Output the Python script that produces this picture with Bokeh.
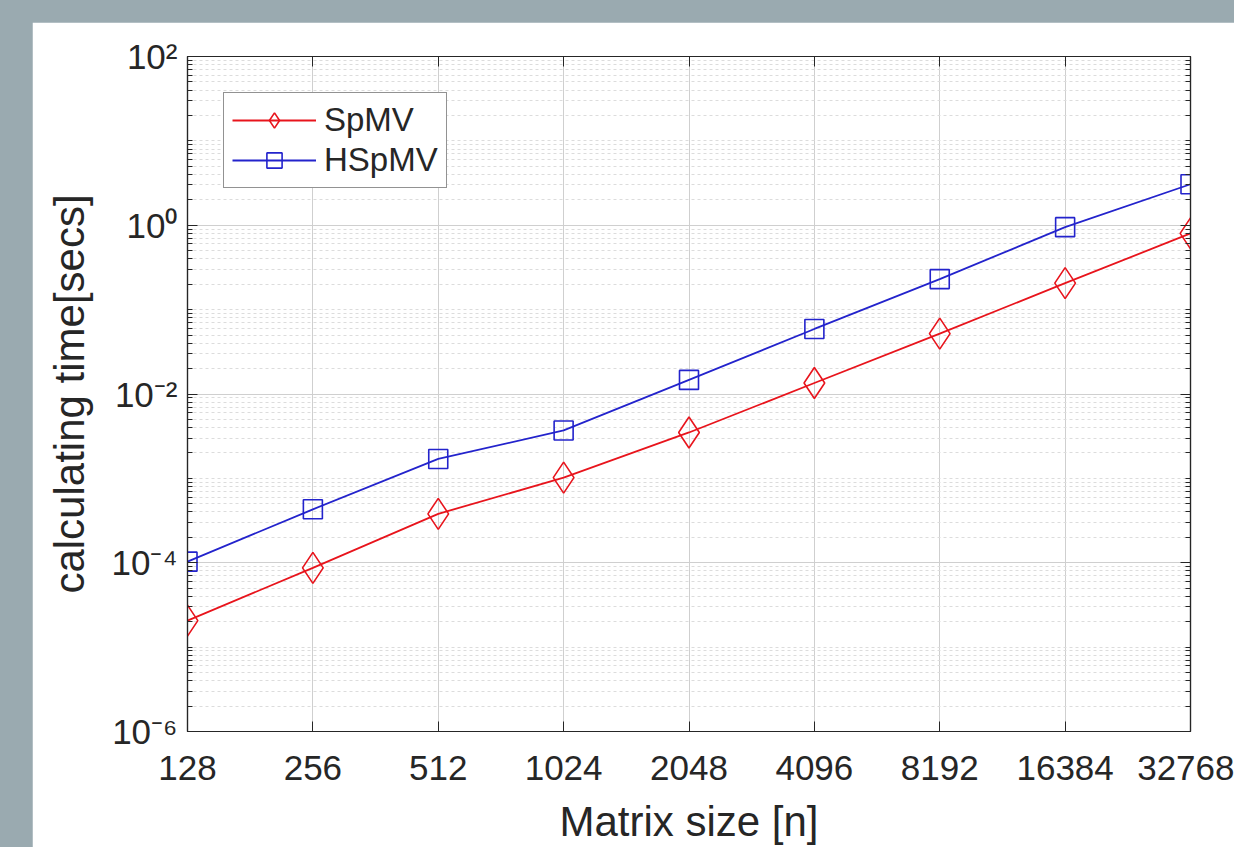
from bokeh.plotting import figure
from bokeh.models import (Range1d, FixedTicker, CustomJSTickFormatter, LogAxis, Spacer)
from bokeh.layouts import column, row
from bokeh.embed import file_html
from bokeh.resources import INLINE

# ---- data ----
matrix_sizes = [128, 256, 512, 1024, 2048, 4096, 8192, 16384, 32768]
spmv_time = [2.06e-5, 8.7e-5, 3.8e-4, 1.02e-3, 3.5e-3, 1.35e-2, 5.2e-2, 0.206, 0.80]
hspmv_time = [1.03e-4, 4.3e-4, 1.7e-3, 3.7e-3, 1.47e-2, 5.9e-2, 0.23, 0.95, 3.06]
y_major_ticks = [1e-6, 1e-4, 1e-2, 1e0, 1e2]
series_names = ["SpMV", "HSpMV"]

# ---- style ----
GRAY_BG = "#9AAAB0"
AX = "#262626"
RED = "#E8141C"
BLUE = "#2323CC"
FONT = "Liberation Sans"

y_minor_ticks = [m * 10.0 ** k for k in range(-6, 2) for m in range(1, 10)
                 if not (m == 1 and k % 2 == 0)]

p = figure(width=1202, height=825,
           x_axis_type="log", y_axis_type="log",
           x_range=Range1d(128, 32768), y_range=Range1d(1e-6, 1e2),
           output_backend="svg", toolbar_location=None,
           min_border_left=155, min_border_right=44,
           min_border_top=34, min_border_bottom=115,
           background_fill_color="white", border_fill_color="white",
           outline_line_color=AX, outline_line_width=1.2)

x_ticker = FixedTicker(ticks=matrix_sizes, minor_ticks=[])
y_ticker = FixedTicker(ticks=y_major_ticks, minor_ticks=y_minor_ticks)

sup_fmt = CustomJSTickFormatter(code="""
const e = Math.round(Math.log10(tick));
const m = {'-':'\u207b','0':'\u2070','1':'\u00b9','2':'\u00b2','3':'\u00b3','4':'\u2074','5':'\u2075','6':'\u2076','7':'\u2077','8':'\u2078','9':'\u2079'};
return '10' + String(e).split('').map(c => m[c]).join('');
""")
int_fmt = CustomJSTickFormatter(code="return String(Math.round(tick));")
empty_fmt = CustomJSTickFormatter(code="return '';")


def style_axis(ax):
    ax.axis_line_color = AX
    ax.axis_line_width = 1.2
    ax.major_tick_in = 10
    ax.major_tick_out = 0
    ax.minor_tick_in = 5
    ax.minor_tick_out = 0
    ax.major_tick_line_color = AX
    ax.minor_tick_line_color = AX
    ax.major_label_text_font = FONT
    ax.major_label_text_font_size = "35px"
    ax.major_label_text_color = AX
    ax.axis_label_text_font = FONT
    ax.axis_label_text_font_size = "42px"
    ax.axis_label_text_font_style = "normal"
    ax.axis_label_text_color = AX


xa = p.xaxis[0]
xa.ticker = x_ticker
xa.formatter = int_fmt
style_axis(xa)
xa.major_label_standoff = 24
xa.axis_label = "Matrix size [n]"
xa.axis_label_standoff = 15

ya = p.yaxis[0]
ya.ticker = y_ticker
ya.formatter = sup_fmt
style_axis(ya)
ya.major_label_standoff = 10
ya.axis_label = "calculating time[secs]"
ya.axis_label_standoff = 16

top = LogAxis(ticker=FixedTicker(ticks=matrix_sizes, minor_ticks=[]), formatter=empty_fmt)
style_axis(top)
top.major_label_text_font_size = "0px"
p.add_layout(top, "above")

right = LogAxis(ticker=FixedTicker(ticks=y_major_ticks, minor_ticks=y_minor_ticks), formatter=empty_fmt)
style_axis(right)
right.major_label_text_font_size = "0px"
p.add_layout(right, "right")

p.xgrid.ticker = x_ticker
p.xgrid.grid_line_color = "#CFCFCF"
p.ygrid.ticker = y_ticker
p.ygrid.grid_line_color = "#CFCFCF"
p.ygrid.minor_grid_line_color = "#DCDCDC"
p.ygrid.minor_grid_line_dash = "3 3"

p.line(matrix_sizes, spmv_time, line_color=RED, line_width=1.8, legend_label=series_names[0])
p.scatter(matrix_sizes, spmv_time, marker="diamond", size=31, fill_color=None,
          line_color=RED, line_width=1.6, legend_label=series_names[0])
p.line(matrix_sizes, hspmv_time, line_color=BLUE, line_width=1.8, legend_label=series_names[1])
p.scatter(matrix_sizes, hspmv_time, marker="square", size=19, fill_color=None,
          line_color=BLUE, line_width=1.6, legend_label=series_names[1])

lg = p.legend[0]
lg.location = "top_left"
lg.margin = 36
lg.padding = 8
lg.spacing = 2
lg.glyph_width = 84
lg.glyph_height = 38
lg.label_height = 38
lg.label_standoff = 8
lg.label_text_font = FONT
lg.label_text_font_size = "33px"
lg.label_text_color = AX
lg.border_line_color = AX
lg.border_line_width = 1.2
lg.background_fill_color = "white"
lg.background_fill_alpha = 1.0

root = column(
    Spacer(width=1234, height=22),
    row(Spacer(width=32, height=825), p),
    styles={"background-color": GRAY_BG},
)

open("out.html", "w").write(file_html(root, INLINE))
